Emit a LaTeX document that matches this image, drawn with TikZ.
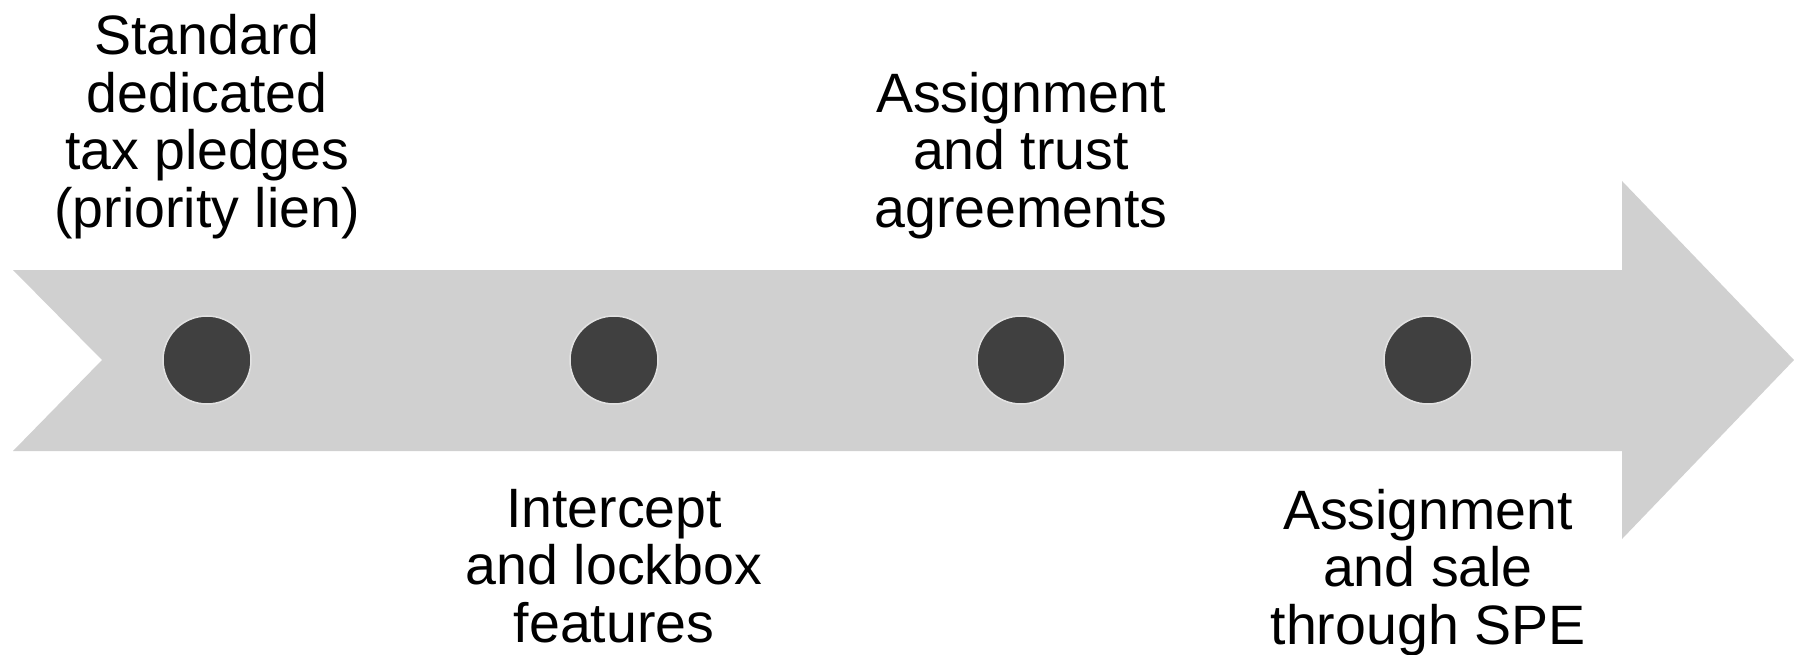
\documentclass[tikz,border=0pt]{standalone}
\usepackage{fontspec}
\setmainfont{Liberation Sans}
\definecolor{arrowgray}{HTML}{D0D0D0}
\definecolor{dotfill}{HTML}{404040}
\definecolor{dotrim}{HTML}{E2E2E2}
\tikzset{
  dot/.style={circle, fill=dotfill, draw=dotrim, line width=1.5pt, minimum size=88pt, inner sep=0pt},
  lbl/.style={align=center, inner sep=0pt, font=\fontsize{55.5}{57.5}\selectfont, text=black},
}
\begin{document}
\begin{tikzpicture}[x=1pt, y=-1pt]
\useasboundingbox (0,0) rectangle (1794,655);
\fill[arrowgray] (13,270) -- (1622,270) -- (1622,181) -- (1794,360) -- (1622,539) -- (1622,451) -- (13,451) -- (102,360) -- cycle;
\node[dot] (d1) at (207,360) {};
\node[dot] (d2) at (614,360) {};
\node[dot] (d3) at (1021,360) {};
\node[dot] (d4) at (1428,360) {};
\node[lbl, anchor=south] (t1) at (207,239) {Standard\\dedicated\\tax pledges\\(priority lien)};
\node[lbl, anchor=north] (t2) at (614,489) {Intercept\\and lockbox\\features};
\node[lbl, anchor=south] (t3) at (1021,239) {Assignment\\and trust\\agreements};
\node[lbl, anchor=north] (t4) at (1428,489) {Assignment\\and sale\\through SPE};
\end{tikzpicture}
\end{document}
